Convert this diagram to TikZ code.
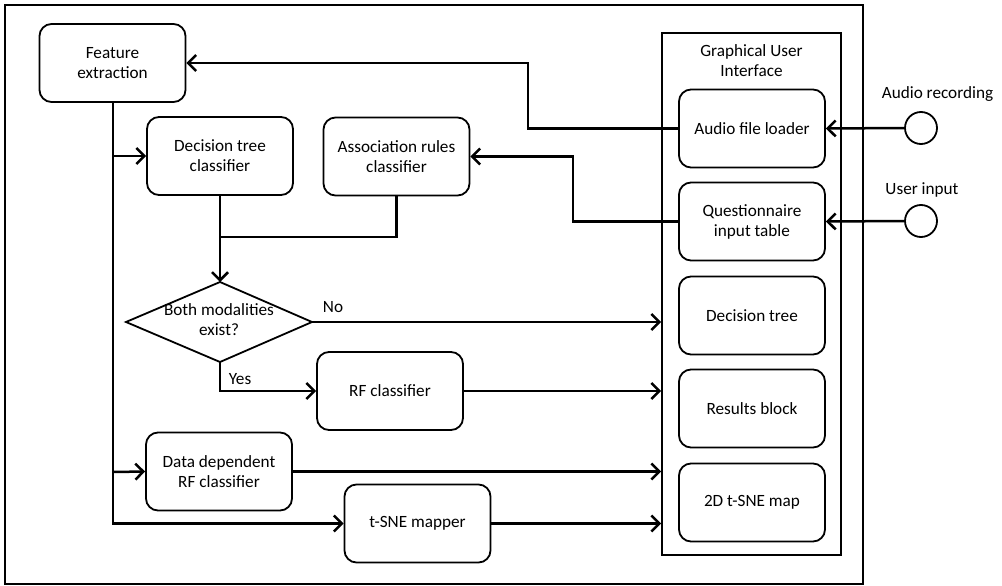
\documentclass[tikz,border=0pt]{standalone}
\usepackage{fontspec}
\setmainfont{Carlito}
\usetikzlibrary{arrows.meta}
\begin{document}
\begin{tikzpicture}[x=1pt,y=-1pt,
  every node/.style={font=\fontsize{17.2}{20}\selectfont, align=center},
  block/.style={draw, line width=1.8pt, rounded corners=12pt, minimum width=146pt, minimum height=78pt, inner sep=0pt},
  port/.style={circle, draw, line width=1.8pt, minimum size=32pt, inner sep=0pt},
  wire/.style={line width=2.5pt},
  link/.style={wire, -{Straight Barb[length=8pt,width=16pt]}},
  plain/.style={inner sep=0pt}]
\useasboundingbox (0,0) rectangle (1002,586);
% outer frame
\draw[line width=1.5pt] (5,5) rectangle (863,584);

% processing blocks
\node[block] (fe)   at (112.5,63)  {Feature\\extraction};
\node[block] (dtc)  at (220,156)   {Decision tree\\classifier};
\node[block] (arc)  at (396.5,156.5) {Association rules\\classifier};
\node[block] (rf)   at (390,391)   {RF classifier};
\node[block] (ddrf) at (219,471.5) {Data dependent\\RF classifier};
\node[block] (tsne) at (417.5,523.5) {t-SNE mapper};

% decision diamond
\node[plain] (dm) at (219,320) {Both modalities\\exist?};
\coordinate (dmt) at (220,282);
\coordinate (dmr) at (312,322);
\coordinate (dmb) at (220,362);
\coordinate (dml) at (126,322);
\draw[line width=1.8pt] (dmt) -- (dmr) -- (dmb) -- (dml) -- cycle;

% graphical user interface
\node[draw, line width=1.8pt, minimum width=179pt, minimum height=522pt, inner sep=0pt] (gui) at (751.5,294) {};
\node[plain] (guit) at (751.5,61) {Graphical User\\Interface};
\node[block] (aud) at (752,128.5) {Audio file loader};
\node[block] (qit) at (752,221.5) {Questionnaire\\input table};
\node[block] (gdt) at (752,315.5) {Decision tree};
\node[block] (res) at (752,408.5) {Results block};
\node[block] (map) at (752,502.5) {2D t-SNE map};

% external inputs
\node[port] (c1) at (921,128) {};
\node[port] (c2) at (921,221) {};
\node[plain] (l1) at (937.5,94) {Audio recording};
\node[plain] (l2) at (922,190) {User input};

% inputs into the interface
\draw[link] (c1.west) -- (aud.east);
\draw[link] (c2.west) -- (qit.east);

% interface to processing
\draw[link] (aud.west) -- ++(-150,0) |- (fe.east);
\draw[link] (qit.west) -- ++(-105,0) |- (arc.east);

% feature trunk
\coordinate (tb1) at (113,156);
\coordinate (tb2) at (113,472);
\coordinate (tend) at (113,523.5);
\draw[link] (fe.south -| tend) -- (tend) -- (tsne.west);
\draw[link] (tb1) -- (dtc.west);
\draw[link] (tb2) -- (ddrf.west);

% classifiers merge into the decision
\coordinate (merge) at (220,237);
\draw[wire] (dtc.south) -- (merge);
\draw[wire] (arc.south) |- (merge);
\draw[link] (merge) -- (dmt);

% decision outcomes
\draw[link] (dmr) -- (dmr -| gui.west);
\node[plain] (no) at (333,307) {No};
\draw[link] (dmb) |- (rf.west);
\node[plain] (yes) at (240,379) {Yes};

% results into the interface
\draw[link] (rf.east) -- (rf.east -| gui.west);
\draw[link] (ddrf.east) -- (ddrf.east -| gui.west);
\draw[link] (tsne.east) -- (tsne.east -| gui.west);
\end{tikzpicture}
\end{document}
